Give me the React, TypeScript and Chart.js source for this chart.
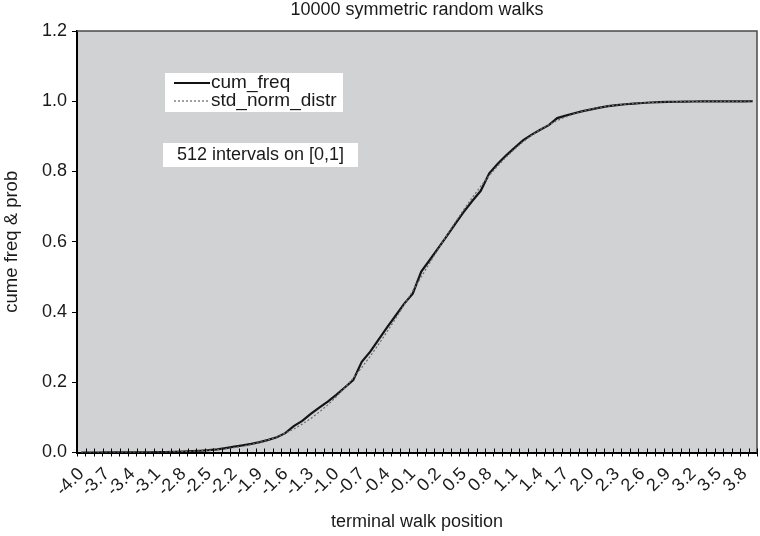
import React, { useEffect, useRef } from "react";
import { Chart, registerables } from "chart.js";

Chart.register(...registerables);

const categories = [
  "-4.0", "-3.9", "-3.8", "-3.7", "-3.6", "-3.5", "-3.4", "-3.3", "-3.2", "-3.1",
  "-3.0", "-2.9", "-2.8", "-2.7", "-2.6", "-2.5", "-2.4", "-2.3", "-2.2", "-2.1",
  "-2.0", "-1.9", "-1.8", "-1.7", "-1.6", "-1.5", "-1.4", "-1.3", "-1.2", "-1.1",
  "-1.0", "-0.9", "-0.8", "-0.7", "-0.6", "-0.5", "-0.4", "-0.3", "-0.2", "-0.1",
  "0.0", "0.1", "0.2", "0.3", "0.4", "0.5", "0.6", "0.7", "0.8", "0.9",
  "1.0", "1.1", "1.2", "1.3", "1.4", "1.5", "1.6", "1.7", "1.8", "1.9",
  "2.0", "2.1", "2.2", "2.3", "2.4", "2.5", "2.6", "2.7", "2.8", "2.9",
  "3.0", "3.1", "3.2", "3.3", "3.4", "3.5", "3.6", "3.7", "3.8", "3.9",
];

const cumFreq = [
  0, 0, 0, 0.0001, 0.0001, 0.0002, 0.0003, 0.0005, 0.0007, 0.001,
  0.0014, 0.002, 0.0028, 0.0038, 0.005, 0.0066, 0.009, 0.0125, 0.0165, 0.0205,
  0.0245, 0.0295, 0.036, 0.0435, 0.055, 0.075, 0.09, 0.11, 0.128, 0.145,
  0.164, 0.185, 0.206, 0.258, 0.287, 0.322, 0.357, 0.39, 0.424, 0.452,
  0.515, 0.548, 0.582, 0.616, 0.651, 0.685, 0.716, 0.745, 0.795, 0.822,
  0.846, 0.868, 0.889, 0.905, 0.919, 0.932, 0.952, 0.959, 0.966, 0.972,
  0.977, 0.982, 0.986, 0.989, 0.9915, 0.9935, 0.995, 0.9965, 0.9975, 0.998,
  0.9986, 0.999, 0.9993, 0.9995, 0.9997, 0.9998, 0.9998, 0.9999, 0.9999, 1.0,
];

const stdNormDistr = [
  0.00003, 0.00005, 0.00007, 0.00011, 0.00016, 0.00023, 0.00034, 0.00048, 0.00069, 0.00097,
  0.00135, 0.00187, 0.00256, 0.00347, 0.00466, 0.00621, 0.0082, 0.01072, 0.0139, 0.01786,
  0.02275, 0.02872, 0.03593, 0.04457, 0.0548, 0.06681, 0.08076, 0.0968, 0.11507, 0.13567,
  0.15866, 0.18406, 0.21186, 0.24196, 0.27425, 0.30854, 0.34458, 0.38209, 0.42074, 0.46017,
  0.5, 0.53983, 0.57926, 0.61791, 0.65542, 0.69146, 0.72575, 0.75804, 0.78814, 0.81594,
  0.84134, 0.86433, 0.88493, 0.9032, 0.91924, 0.93319, 0.9452, 0.95543, 0.96407, 0.97128,
  0.97725, 0.98214, 0.9861, 0.98928, 0.9918, 0.99379, 0.99534, 0.99653, 0.99744, 0.99813,
  0.99865, 0.99903, 0.99931, 0.99952, 0.99966, 0.99977, 0.99984, 0.99989, 0.99993, 0.99995,
];

const seriesNames = ["cum_freq", "std_norm_distr"];
const titleText = "10000 symmetric random walks";
const noteText = "512 intervals on [0,1]";
const xTitle = "terminal walk position";
const yTitle = "cume freq & prob";

const FONT = "'Liberation Sans', Arial, Helvetica, sans-serif";
const TEXT = "#1a1a1a";
const PLOT_BG = "rgb(209,210,212)";

const decorPlugin = {
  id: "decor",
  beforeDraw(chart: any) {
    const { ctx, chartArea } = chart;
    const { left, top, right, bottom } = chartArea;
    ctx.save();
    ctx.fillStyle = PLOT_BG;
    ctx.fillRect(left, top, right - left, bottom - top);
    ctx.restore();
  },
  afterDraw(chart: any) {
    const { ctx, chartArea } = chart;
    const { left, top, right, bottom } = chartArea;
    ctx.save();
    // top / right border
    ctx.strokeStyle = "#4a4a4a";
    ctx.lineWidth = 1.5;
    ctx.beginPath();
    ctx.moveTo(left, top);
    ctx.lineTo(right, top);
    ctx.lineTo(right, bottom);
    ctx.stroke();

    // inner half of x tick marks (ticks cross the axis)
    const xs = chart.scales.x;
    const n = categories.length;
    const step = xs.getPixelForTick(1) - xs.getPixelForTick(0);
    ctx.strokeStyle = "#000";
    ctx.lineWidth = 1;
    ctx.beginPath();
    for (let i = 0; i <= n; i++) {
      const x = Math.round(xs.getPixelForTick(0) - step / 2 + i * step) + 0.5;
      ctx.moveTo(x, bottom - 4);
      ctx.lineTo(x, bottom);
    }
    ctx.stroke();

    // title centred on the plot area
    ctx.fillStyle = TEXT;
    ctx.font = `18px ${FONT}`;
    ctx.textAlign = "center";
    ctx.textBaseline = "middle";
    ctx.fillText(titleText, (left + right) / 2, 10);

    // legend box
    const lx = left + 88;
    const ly = top + 42;
    ctx.fillStyle = "#fff";
    ctx.fillRect(lx, ly, 178, 39);
    const rows = [ly + 10, ly + 28];
    ctx.strokeStyle = "#111";
    ctx.lineWidth = 2;
    ctx.setLineDash([]);
    ctx.beginPath();
    ctx.moveTo(lx + 9, rows[0]);
    ctx.lineTo(lx + 45, rows[0]);
    ctx.stroke();
    ctx.strokeStyle = "#444";
    ctx.lineWidth = 1;
    ctx.setLineDash([2, 2]);
    ctx.beginPath();
    ctx.moveTo(lx + 9, rows[1]);
    ctx.lineTo(lx + 45, rows[1]);
    ctx.stroke();
    ctx.setLineDash([]);
    ctx.fillStyle = TEXT;
    ctx.font = `19px ${FONT}`;
    ctx.textAlign = "left";
    ctx.fillText(seriesNames[0], lx + 46, rows[0]);
    ctx.fillText(seriesNames[1], lx + 46, rows[1]);

    // note box
    const nx = left + 86;
    const ny = top + 112;
    ctx.fillStyle = "#fff";
    ctx.fillRect(nx, ny, 195, 24);
    ctx.fillStyle = TEXT;
    ctx.font = `18px ${FONT}`;
    ctx.textAlign = "center";
    ctx.fillText(noteText, nx + 97.5, ny + 12.5);
    ctx.restore();
  },
};

export default function App() {
  const ref = useRef<HTMLCanvasElement | null>(null);

  useEffect(() => {
    if (!ref.current) return;
    const chart = new Chart(ref.current, {
      type: "line",
      data: {
        labels: categories,
        datasets: [
          {
            label: seriesNames[0],
            data: cumFreq,
            borderColor: "#151515",
            borderWidth: 2.2,
            pointRadius: 0,
            tension: 0,
            order: 2,
          },
          {
            label: seriesNames[1],
            data: stdNormDistr,
            borderColor: "#6a6a6a",
            borderWidth: 1.2,
            borderDash: [2, 2],
            pointRadius: 0,
            tension: 0,
            order: 1,
          },
        ],
      },
      options: {
        responsive: false,
        animation: false,
        devicePixelRatio: 1,
        layout: { padding: { top: 31, right: 3, left: 0, bottom: 0 } },
        plugins: {
          legend: { display: false },
          title: { display: false },
          tooltip: { enabled: false },
        },
        scales: {
          x: {
            type: "category",
            offset: true,
            grid: {
              display: true,
              offset: true,
              drawOnChartArea: false,
              drawTicks: true,
              tickLength: 4,
              color: "#000",
            },
            border: { display: true, color: "#000", width: 2 },
            ticks: {
              autoSkip: false,
              minRotation: 45,
              maxRotation: 45,
              padding: 7,
              color: TEXT,
              font: { family: FONT, size: 18 },
              callback: (_v: any, i: number) => (i % 3 === 0 ? categories[i] : ""),
            },
            title: {
              display: true,
              text: xTitle,
              color: TEXT,
              font: { family: FONT, size: 18 },
              padding: { top: 0, bottom: 3 },
            },
            afterFit: (scale: any) => {
              scale.height = 83.5;
              scale.paddingRight = 0;
              scale.paddingLeft = 0;
            },
          },
          y: {
            min: 0,
            max: 1.2,
            grid: {
              display: true,
              drawOnChartArea: false,
              drawTicks: true,
              tickLength: 5,
              color: "#000",
            },
            border: { display: true, color: "#000", width: 2 },
            ticks: {
              stepSize: 0.2,
              padding: 5,
              color: TEXT,
              font: { family: FONT, size: 18 },
              callback: (v: any) => Number(v).toFixed(1),
            },
            title: {
              display: true,
              text: yTitle,
              color: TEXT,
              font: { family: FONT, size: 18.5 },
              padding: { top: 1, bottom: 0 },
            },
            afterFit: (scale: any) => {
              scale.width = 77;
            },
          },
        },
      },
      plugins: [decorPlugin],
    });
    return () => chart.destroy();
  }, []);

  return (
    <div style={{ position: "fixed", left: 0, top: 0, width: 760, height: 536, background: "#fff", overflow: "hidden" }}>
      <canvas ref={ref} width={760} height={536} style={{ display: "block", width: 760, height: 536 }} />
    </div>
  );
}
